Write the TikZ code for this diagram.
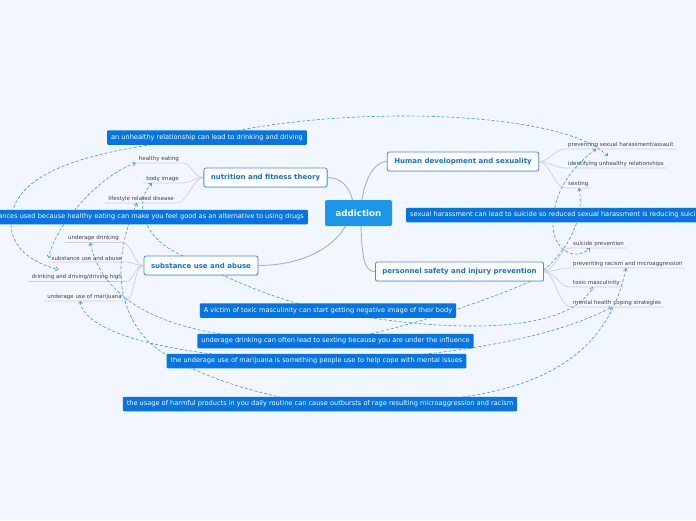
\documentclass[tikz,border=0pt]{standalone}
\usepackage{fontspec}
\setmainfont{DejaVu Sans}
\definecolor{mapbg}{RGB}{242,246,254}
\definecolor{mapblue}{RGB}{28,150,232}
\definecolor{relblue}{RGB}{6,116,226}
\definecolor{topicblue}{RGB}{22,112,222}
\definecolor{dashblue}{RGB}{64,145,232}
\definecolor{subgray}{RGB}{64,64,72}
\definecolor{linegray}{RGB}{176,176,182}
\definecolor{ulgray}{RGB}{206,208,216}
\usetikzlibrary{arrows.meta}
\usetikzlibrary{positioning}
\usetikzlibrary{shadows}
\pgfdeclarelayer{bg}
\pgfdeclarelayer{links}
\pgfsetlayers{bg,links,main}
\tikzset{
  central/.style={fill=mapblue, text=white, font=\fontsize{8.7}{10}\selectfont\bfseries, minimum width=67pt, minimum height=26pt, rounded corners=1.5pt, inner sep=0pt},
  topic/.style={draw=topicblue!80, fill=white, line width=0.8pt, text=topicblue, font=\fontsize{7}{8}\selectfont\bfseries, minimum height=19pt, inner xsep=7pt, rounded corners=2pt, drop shadow={shadow xshift=0.4pt, shadow yshift=-1pt, opacity=0.18}},
  subtopic/.style={text=subgray, font=\fontsize{5.5}{6}\selectfont, inner xsep=3pt, inner ysep=1.5pt},
  relbox/.style={fill=relblue, text=white, font=\fontsize{6.6}{7}\selectfont, minimum height=14.5pt, inner xsep=4pt, inner ysep=0pt, rounded corners=1pt},
  link/.style={draw=linegray, line width=0.9pt},
  uline/.style={draw=ulgray, line width=0.7pt},
  rel/.style={draw=dashblue, line width=0.6pt, dash pattern=on 3pt off 2pt, >={Straight Barb[length=2.5pt,width=4pt]}, <->}
}

\begin{document}
\begin{tikzpicture}[x=1pt,y=-1pt]
  \useasboundingbox (0,0) rectangle (696,520);
  \begin{pgfonlayer}{bg}
    \fill[mapbg] (0,0) rectangle (696,520);
  \end{pgfonlayer}

  \node[central] (addiction) at (358.5,213) {addiction};
  \node[topic] (nutrition) at (265.5,177.5) {nutrition and fitness theory};
  \node[topic] (humandev) at (463,161.5) {Human development and sexuality};
  \node[topic] (substance) at (201,265.5) {substance use and abuse};
  \node[topic] (safety) at (459.5,271.5) {personnel safety and injury prevention};

  \node[subtopic, anchor=south east] (healthy) at (182,163) {healthy eating};
  \node[subtopic, anchor=south east] (bodyimg) at (182,183) {body image};
  \node[subtopic, anchor=south east] (lifestyle) at (177,203) {lifestyle related disease};
  \node[subtopic, anchor=south east] (udrinking) at (122,242.5) {underage drinking};
  \node[subtopic, anchor=south east] (suabuse) at (125,262) {substance use and abuse};
  \node[subtopic, anchor=south east] (drdriving) at (125,281.5) {drinking and driving/driving high};
  \node[subtopic, anchor=south east] (marijuana) at (125,301) {underage use of marijuana};
  \node[subtopic, anchor=south west] (harass) at (565,149) {preventing sexual harassment/assault};
  \node[subtopic, anchor=south west] (unhealthy) at (565,168) {identifying unhealthy relationships};
  \node[subtopic, anchor=south west] (sexting) at (565,188) {sexting};
  \node[subtopic, anchor=south west] (suicide) at (570,248) {suicide prevention};
  \node[subtopic, anchor=south west] (racism) at (570,268) {preventing racism and microaggression};
  \node[subtopic, anchor=south west] (toxic) at (570,287) {toxic masculinity};
  \node[subtopic, anchor=south west] (coping) at (570,307) {mental health coping strategies};

  \node[relbox] (lblrel) at (207,137.5) {an unhealthy relationship can lead to drinking and driving};
  \node[relbox, anchor=east] (lbldrugs) at (308,217) {substances used because healthy eating can make you feel good as an alternative to using drugs};
  \node[relbox, anchor=west] (lblsuicide) at (406,215) {sexual harassment can lead to suicide so reduced sexual harassment is reducing suicide};
  \node[relbox] (lbltoxic) at (328,310.5) {A victim of toxic masculinity can start getting negative image of their body};
  \node[relbox] (lblsexting) at (335.5,341) {underage drinking can often lead to sexting because you are under the influence};
  \node[relbox] (lblcope) at (316.5,361) {the underage use of marijuana is something people use to help cope with mental issues};
  \node[relbox] (lblrage) at (320,404) {the usage of harmful products in you daily routine can cause outbursts of rage resulting microaggression and racism};

  \begin{pgfonlayer}{links}
    \draw[link] (nutrition.east) .. controls +(14,0) and +(-3,-12) .. ([xshift=-6pt]addiction.north);
    \draw[link] ([xshift=3.5pt]addiction.north) .. controls +(3,-22) and +(-12,0) .. (humandev.west);
    \draw[link] ([xshift=-13pt]addiction.south) .. controls +(-14,24) and +(40,0) .. (substance.east);
    \draw[link] ([xshift=2.5pt]addiction.south) .. controls +(1,34) and +(-10,0) .. (safety.west);

    \foreach \sub in {healthy,bodyimg,lifestyle}
      \draw[uline] (\sub.south west) -- (\sub.south east) .. controls +(10,0) and +(-10,0) .. (nutrition.west);
    \foreach \sub in {udrinking,suabuse,drdriving,marijuana}
      \draw[uline] (\sub.south west) -- (\sub.south east) .. controls +(10,0) and +(-10,0) .. (substance.west);
    \foreach \sub in {harass,unhealthy,sexting}
      \draw[uline] (\sub.south east) -- (\sub.south west) .. controls +(-10,0) and +(10,0) .. (humandev.east);
    \foreach \sub in {suicide,racism,toxic,coping}
      \draw[uline] (\sub.south east) -- (\sub.south west) .. controls +(-10,0) and +(10,0) .. (safety.east);

    \draw[rel] ([xshift=43pt,yshift=3pt]unhealthy.north west) .. controls (560,108) and (330,105) .. (lblrel.center) .. controls (110,148) and (20,165) .. (12,215) .. controls (6,245) and (30,262) .. ([xshift=30pt,yshift=3pt]drdriving.north west);
    \draw[rel] (healthy.south west) .. controls (100,175) and (55,225) .. (suabuse.west);
    \draw[rel] ([xshift=31pt]harass.south west) .. controls (568,170) and (553,195) .. (553,225) .. controls (553,250) and (575,262) .. ([xshift=20pt]suicide.south west);
    \draw[rel] ([xshift=14pt]sexting.south west) .. controls (586,225) and (560,262) .. (527,283) .. controls (480,303) and (400,330) .. (lblsexting.center) .. controls (230,342) and (110,330) .. ([xshift=-32pt]udrinking.south east);
    \draw[rel] ([xshift=-30pt]bodyimg.south east) .. controls (135,200) and (140,235) .. (177,253) .. controls (215,272) and (270,300) .. (lbltoxic.center) .. controls (400,325) and (560,345) .. ([xshift=23pt]toxic.south west);
    \draw[rel] ([xshift=-45pt]marijuana.south east) .. controls (85,335) and (180,358) .. (lblcope.center) .. controls (440,358) and (550,340) .. ([xshift=42pt]coping.south west);
    \draw[rel] ([xshift=-40pt]lifestyle.south east) .. controls (118,245) and (110,300) .. (147,340) .. controls (175,368) and (250,395) .. (lblrage.center) .. controls (470,405) and (600,395) .. ([xshift=56pt]racism.south west);
  \end{pgfonlayer}
\end{tikzpicture}
\end{document}
